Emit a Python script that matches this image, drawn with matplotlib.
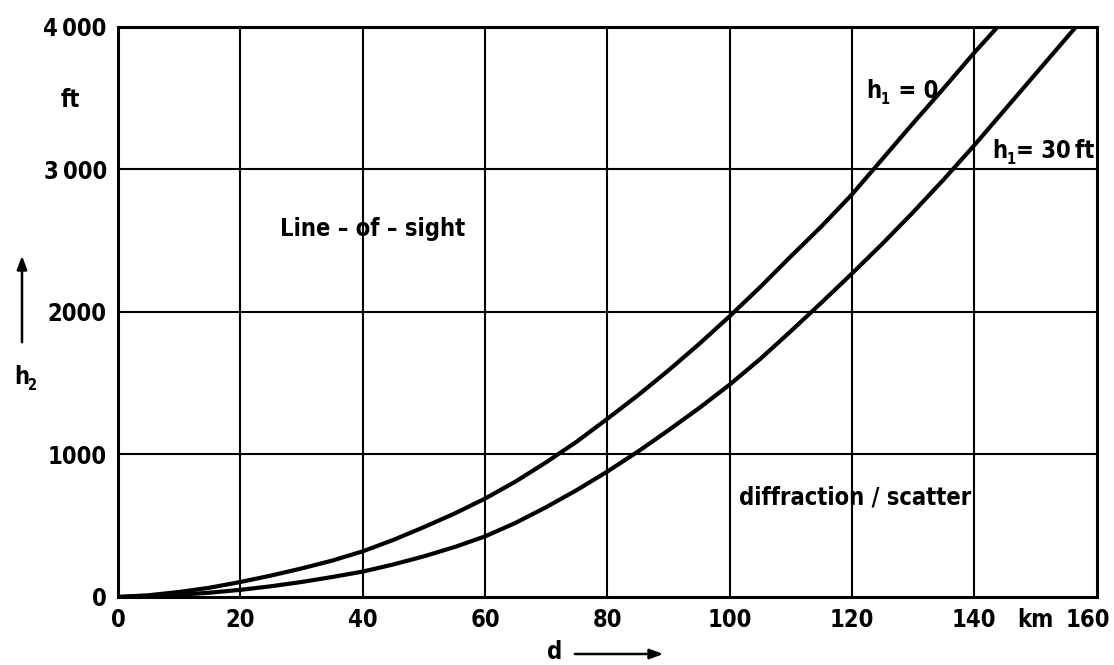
import matplotlib
matplotlib.use("Agg")
import matplotlib.pyplot as plt
from matplotlib import font_manager as fm
from matplotlib.patches import FancyArrowPatch
from matplotlib.transforms import ScaledTranslation

# Data
d_h1_0 = [0, 5, 10, 15, 20, 25, 30, 35, 40, 45, 50, 55, 60, 65, 70, 75, 80, 85, 90,
          95, 100, 105, 110, 115, 120, 125, 130, 135, 140, 143.8]
h2_h1_0 = [0, 12, 35, 65, 105, 150, 200, 255, 320, 400, 490, 585, 690, 810, 945, 1090,
           1250, 1415, 1590, 1775, 1970, 2175, 2390, 2600, 2825, 3075, 3325, 3570, 3820, 4000]

d_h1_30 = [0, 5, 10, 15, 20, 25, 30, 35, 40, 45, 50, 55, 60, 65, 70, 75, 80, 85, 90,
           95, 100, 105, 110, 115, 120, 125, 130, 135, 140, 145, 150, 156.6]
h2_h1_30 = [0, 5, 15, 30, 50, 75, 105, 140, 178, 228, 285, 350, 425, 520, 630, 750,
            880, 1020, 1170, 1325, 1490, 1670, 1865, 2065, 2270, 2480, 2700, 2930,
            3170, 3420, 3670, 4000]

x_ticks = [0, 20, 40, 60, 80, 100, 120, 140, 150, 160]
x_tick_labels = ["0", "20", "40", "60", "80", "100", "120", "140", "km", "160"]
y_ticks = [0, 1000, 2000, 3000, 4000]
y_tick_labels = ["0", "1000", "2000", "3\u2009000", "4\u2009000"]


# ---- pick a condensed bold Latin font if one is installed ----
def pick_font():
    latin = ("DejaVu", "Liberation", "Noto Sans", "Roboto", "Open Sans", "Lato", "Inter")
    best = None
    best_score = -1e9
    for f in fm.fontManager.ttflist:
        name = f.name
        if not name.startswith(latin) or "CJK" in name or "Mono" in name:
            continue
        if name.startswith("Noto Sans") and name not in ("Noto Sans", "Noto Sans Condensed",
                                                         "Noto Sans SemiCondensed",
                                                         "Noto Sans ExtraCondensed"):
            continue
        cond = ("ondensed" in name or "Narrow" in name or
                f.stretch in ("condensed", "semi-condensed", "extra-condensed"))
        if not cond:
            continue
        if f.style != "normal":
            continue
        try:
            w = int(f.weight)
        except Exception:
            w = {"bold": 700, "normal": 400, "medium": 500, "semibold": 600}.get(f.weight, 400)
        score = -abs(w - 650)
        if f.stretch == "condensed" or (name.endswith("Condensed") and "Semi" not in name
                                        and "Extra" not in name):
            score += 50
        if f.stretch == "semi-condensed" or "SemiCondensed" in name:
            score += 30
        if score > best_score:
            best_score = score
            best = f.fname
    return best


FONT_FILE = pick_font()
FS = 17


def fp(size=FS):
    if FONT_FILE:
        return fm.FontProperties(fname=FONT_FILE, size=size)
    return fm.FontProperties(family=["Roboto", "DejaVu Sans"], weight="bold", size=size)


fig = plt.figure(figsize=(11.14, 6.65), dpi=100)
ax = fig.add_axes([0.1059, 0.1023, 0.8785, 0.8571])

ax.plot(d_h1_0, h2_h1_0, color="black", lw=3.0, solid_capstyle="butt", zorder=3)
ax.plot(d_h1_30, h2_h1_30, color="black", lw=3.0, solid_capstyle="butt", zorder=3)

ax.set_xlim(0, 160)
ax.set_ylim(0, 4000)

for xv in [20, 40, 60, 80, 100, 120, 140]:
    ax.axvline(xv, color="black", lw=1.5, zorder=1)
for yv in [1000, 2000, 3000]:
    ax.axhline(yv, color="black", lw=1.5, zorder=1)

for s in ax.spines.values():
    s.set_linewidth(2.2)

ax.set_xticks(x_ticks)
ax.set_xticklabels(x_tick_labels)
ax.set_yticks(y_ticks)
ax.set_yticklabels(y_tick_labels)
for lab in ax.get_xticklabels() + ax.get_yticklabels():
    lab.set_fontproperties(fp())
ax.tick_params(length=0, pad=8)
# nudge the last x label slightly left so it stays inside the canvas
last = ax.get_xticklabels()[-1]
last.set_transform(last.get_transform() + ScaledTranslation(-6 / 72, 0, fig.dpi_scale_trans))

# annotations
ax.text(26.5, 2580, "Line – of – sight", fontproperties=fp(), ha="left", va="center")
ax.text(101.5, 700, "diffraction / scatter", fontproperties=fp(), ha="left", va="center")


def h_label(x, y, sub, rest, transform):
    """Draw 'h' with a lowered subscript and following text."""
    t = fig.text(x, y, "h", fontproperties=fp(), ha="left", va="baseline", transform=transform)
    r = fig.canvas.get_renderer()
    bb = t.get_window_extent(r)
    inv = fig.transFigure.inverted()
    x1, _ = inv.transform((bb.x1 - 1, bb.y0))
    _, ybase = transform.transform((x, y))
    ys = inv.transform((0, ybase - 6))[1]
    yb = inv.transform((0, ybase))[1]
    s = fig.text(x1, ys, sub, fontproperties=fp(FS * 0.62), ha="left", va="baseline")
    bb2 = s.get_window_extent(r)
    x2, _ = inv.transform((bb2.x1 + 1, 0))
    if rest:
        fig.text(x2, yb, rest, fontproperties=fp(), ha="left", va="baseline")


h_label(122.4, 3500, "1", " = 0", ax.transData)
h_label(142.9, 3080, "1", "= 30\u2009ft", ax.transData)

# axis labels with arrows (figure coordinates)
fig.text(70 / 1114, 1 - 100 / 665, "ft", fontproperties=fp(), ha="center", va="center")
h_label(14 / 1114, 1 - 384 / 665, "2", "", fig.transFigure)
fig.text(555 / 1114, 1 - 652 / 665, "d", fontproperties=fp(), ha="center", va="center")

fig.add_artist(FancyArrowPatch(
    (22 / 1114, 1 - 345 / 665), (22 / 1114, 1 - 253 / 665),
    transform=fig.transFigure, arrowstyle="-|>,head_length=8,head_width=3",
    color="black", lw=1.8, mutation_scale=1))
fig.add_artist(FancyArrowPatch(
    (572 / 1114, 1 - 654 / 665), (666 / 1114, 1 - 654 / 665),
    transform=fig.transFigure, arrowstyle="-|>,head_length=8,head_width=3",
    color="black", lw=1.8, mutation_scale=1))

fig.savefig("out.png", dpi=100)
